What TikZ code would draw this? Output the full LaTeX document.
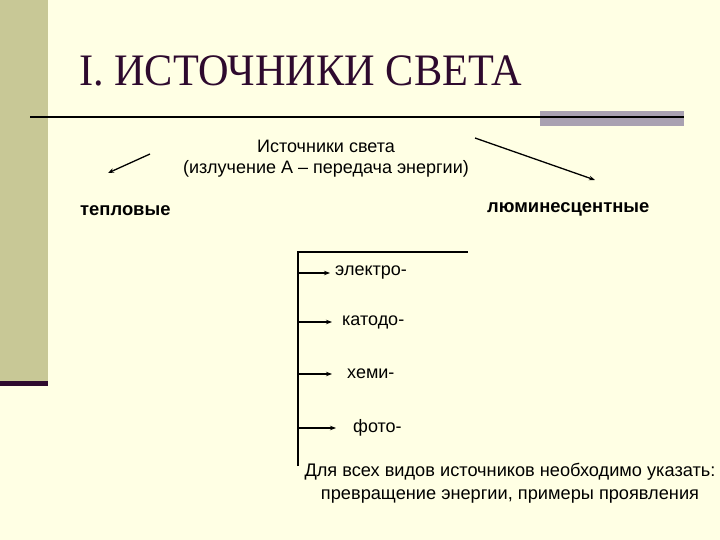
\documentclass[tikz,border=0pt]{standalone}
\usepackage{fontspec}
\setmainfont{Liberation Serif}
\setsansfont{Liberation Sans}
\usetikzlibrary{arrows.meta}
\definecolor{bg}{HTML}{FFFFE4}
\definecolor{strip}{HTML}{C8C896}
\definecolor{bar}{HTML}{A9A1B1}
\definecolor{titlec}{HTML}{2E0A2E}
\tikzset{
  lab/.style={font=\sffamily\fontsize{18}{20}\selectfont, inner sep=0pt, align=center},
  blab/.style={font=\sffamily\bfseries\fontsize{18.4}{20}\selectfont, inner sep=0pt},
  arr/.style={-{Stealth[length=6pt,width=4.5pt]}, line width=1.3pt},
  ln/.style={line width=1.3pt}
}
\begin{document}
\begin{tikzpicture}[x=1pt,y=-1pt]
\useasboundingbox (0,0) rectangle (720,540);
\fill[bg] (0,0) rectangle (720,540);
% left strip
\fill[strip] (0,0) rectangle (48,381);
\fill[titlec] (0,381) rectangle (48,386);
% title
\node[anchor=base west, inner sep=0pt, text=titlec, font=\fontsize{45}{48}\selectfont, xscale=0.94] (title) at (79,86) {I. ИСТОЧНИКИ СВЕТА};
% rule
\fill[bar] (540,111) rectangle (684,126);
\draw[line width=1.8pt] (30,117) -- (684,117);
% main text
\node[lab, font=\sffamily\fontsize{18}{21}\selectfont] (src) at (326,159) {Источники света\\(излучение А – передача энергии)};
\coordinate (la) at (150,154);
\coordinate (ra) at (475,138);
\node[blab, anchor=base west] (tep) at (80,215) {тепловые};
\node[blab, anchor=base west] (lum) at (487,212) {люминесцентные};
\coordinate (lt) at (108,173);
\coordinate (rt) at (595,180);
\draw[arr] (la) -- (lt);
\draw[arr] (ra) -- (rt);
% tree
\coordinate (vtop) at (298,252);
\coordinate (vbot) at (298,466);
\coordinate (htop) at (468,252);
\draw[ln] (vbot) -- (vtop) -- (htop);
\node[lab, anchor=west] (e1) at (335,273) {электро-};
\node[lab, anchor=west] (e2) at (342,322) {катодо-};
\node[lab, anchor=west] (e3) at (347,374) {хеми-};
\node[lab, anchor=west] (e4) at (353,428) {фото-};
\draw[arr] (e1.west -| vtop) -- ([xshift=-5pt]e1.west);
\draw[arr] (e2.west -| vtop) -- ([xshift=-10pt]e2.west);
\draw[arr] (e3.west -| vtop) -- ([xshift=-15pt]e3.west);
\draw[arr] (e4.west -| vtop) -- ([xshift=-17pt]e4.west);
\node[lab, font=\sffamily\fontsize{18.2}{23}\selectfont] (note) at (510,483) {Для всех видов источников необходимо указать:\\превращение энергии, примеры проявления};
\end{tikzpicture}
\end{document}
